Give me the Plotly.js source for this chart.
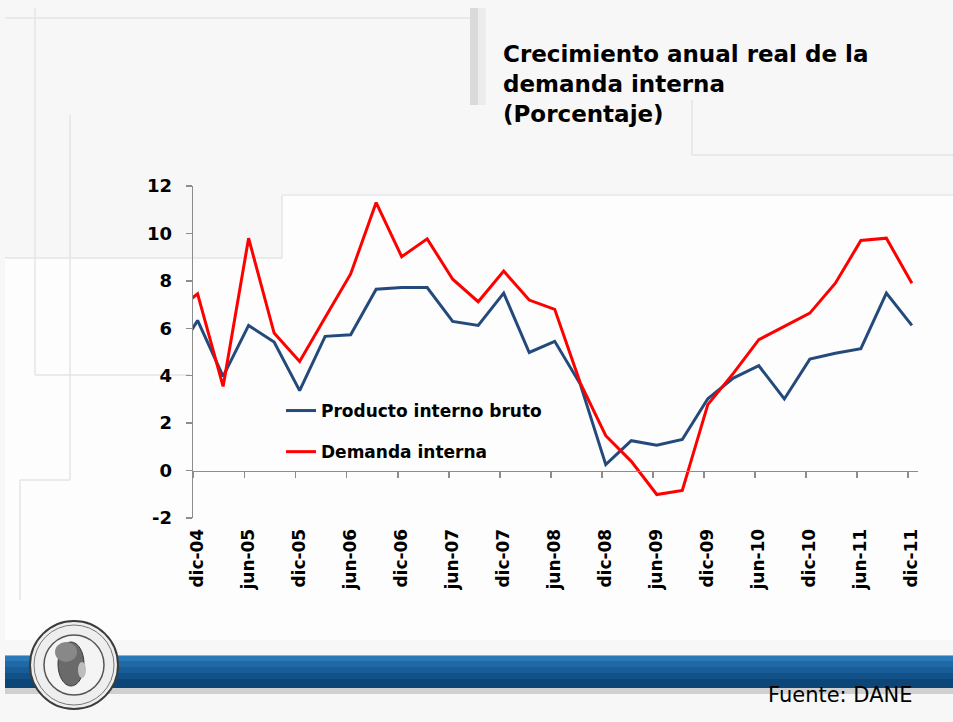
<!DOCTYPE html>
<html>
<head>
<meta charset="utf-8">
<script src="https://cdn.plot.ly/plotly-3.0.1.min.js"></script>
<style>
html,body{margin:0;padding:0;background:#f7f7f7;}
#chart{width:953px;height:722px;}
</style>
</head>
<body>
<div id="chart"></div>
<script>
// ---- data (quarterly, annual real growth %) ----
const categories = ["sep-04","dic-04","mar-05","jun-05","sep-05","dic-05","mar-06","jun-06","sep-06","dic-06",
  "mar-07","jun-07","sep-07","dic-07","mar-08","jun-08","sep-08","dic-08","mar-09","jun-09",
  "sep-09","dic-09","mar-10","jun-10","sep-10","dic-10","mar-11","jun-11","sep-11","dic-11"];
const pib = [4.6, 6.33, 3.97, 6.12, 5.42, 3.37, 5.66, 5.73, 7.65, 7.72,
  7.72, 6.29, 6.12, 7.48, 4.98, 5.45, 3.65, 0.25, 1.26, 1.07,
  1.31, 3.03, 3.9, 4.42, 3.02, 4.70, 4.95, 5.14, 7.48, 6.12];
const demanda = [6.6, 7.45, 3.55, 9.80, 5.80, 4.60, 6.45, 8.29, 11.30, 9.02,
  9.77, 8.07, 7.12, 8.41, 7.19, 6.80, 3.7, 1.47, 0.39, -1.01,
  -0.84, 2.78, 4.1, 5.52, 6.08, 6.64, 7.90, 9.70, 9.80, 7.90];
const seriesNames = ["Producto interno bruto", "Demanda interna"];
const tickLabels = ["dic-04","jun-05","dic-05","jun-06","dic-06","jun-07","dic-07","jun-08",
  "dic-08","jun-09","dic-09","jun-10","dic-10","jun-11","dic-11"];
const yTicks = [-2, 0, 2, 4, 6, 8, 10, 12];
const titleText = "Crecimiento anual real de la<br>demanda interna<br>(Porcentaje)";
const sourceText = "Fuente: DANE";

// ---- layout helpers ----
const W = 953, H = 722;
const M = {l: 193, r: 35, t: 186, b: 204};
const PW = W - M.l - M.r, PH = H - M.t - M.b;
const X = p => (p - M.l) / PW;
const Y = p => (H - M.b - p) / PH;

const xIdx = categories.map((c, i) => i - 1);          // dic-04 -> 0
const labelPos = tickLabels.map(t => categories.indexOf(t) - 1);
const tickPos = labelPos.map(v => v - 0.15);
const xRange = [-0.18, 28.24];

const fam = "DejaVu Sans, Arial, sans-serif";
const boldFont = (s) => ({family: fam, size: s, color: "#000", weight: "bold"});

const traces = [
  {x: xIdx, y: pib, text: categories, name: seriesNames[0], type: "scatter", mode: "lines",
   line: {color: "#244a7c", width: 3}, legendgroup: "a"},
  {x: xIdx, y: demanda, text: categories, name: seriesNames[1], type: "scatter", mode: "lines",
   line: {color: "#ff0000", width: 3}, legendgroup: "b"},
  // empty trace so the label axis (x2) is drawn; it has no points
  {x: [], y: [], xaxis: "x2", type: "scatter", mode: "lines", showlegend: false, hoverinfo: "skip"}
];

// ---- decorative slide shapes ----
const line = (x0, y0, x1, y1, c, w) => ({type: "line", xref: "paper", yref: "paper", layer: "below",
  x0: X(x0), y0: Y(y0), x1: X(x1), y1: Y(y1), line: {color: c || "#e4e4e4", width: w || 1.5}});
const rect = (x0, y0, x1, y1, fill, lc, lw) => ({type: "rect", xref: "paper", yref: "paper", layer: "below",
  x0: X(x0), y0: Y(y0), x1: X(x1), y1: Y(y1), fillcolor: fill, line: {color: lc || "rgba(0,0,0,0)", width: lw || 0}});
const circ = (cx, cy, rx, ry, fill, lc, lw) => ({type: "circle", xref: "paper", yref: "paper", layer: "above",
  x0: X(cx - rx), y0: Y(cy + ry), x1: X(cx + rx), y1: Y(cy - ry), fillcolor: fill, line: {color: lc || "rgba(0,0,0,0)", width: lw || 0}});
const pathOf = pts => "M " + pts.map(p => X(p[0]) + "," + Y(p[1])).join(" L ") + " Z";

const shapes = [
  {type: "path", xref: "paper", yref: "paper", layer: "below",
   path: pathOf([[5,258],[282,258],[282,195],[953,195],[953,640],[5,640]]),
   fillcolor: "#fdfdfd", line: {width: 0}},
  line(5, 18, 470, 18), line(35, 8, 35, 375), line(35, 375, 190, 375),
  line(70, 115, 70, 480), line(20, 480, 70, 480), line(20, 480, 20, 600),
  line(5, 258, 282, 258), line(282, 195, 282, 258), line(282, 195, 953, 195, "#ececec", 2),
  line(692, 100, 692, 155), line(692, 155, 953, 155),
  rect(470, 8, 478, 105, "#dadada"), rect(478, 8, 486, 105, "#ececec"),
  // bottom band
  rect(5, 688, 953, 694, "#d0d0d0"),
  rect(5, 655, 953, 661, "#2b79b8"), rect(5, 661, 953, 667, "#1f69a6"),
  rect(5, 667, 953, 673, "#185d97"), rect(5, 673, 953, 679, "#125188"),
  rect(5, 679, 953, 688, "#0c4577"),
  line(5, 655.5, 953, 655.5, "#7fb2dc", 1),
  // logo (seal)
  circ(74, 665, 44, 44, "#eeeeee", "#3c3c3c", 2),
  circ(74, 665, 40, 40, "rgba(0,0,0,0)", "#777", 1),
  circ(74, 665, 30, 30, "#f4f4f4", "#555", 1.5),
  circ(71, 664, 13, 22, "#6a6a6a", "#3a3a3a", 1),
  circ(66, 652, 11, 10, "#888888", "rgba(0,0,0,0)", 0),
  circ(82, 670, 4, 8, "#bdbdbd", "rgba(0,0,0,0)", 0)
];

const b = s => "<b>" + s + "</b>";

const layout = {
  width: W, height: H,
  margin: M,
  paper_bgcolor: "rgba(0,0,0,0)",
  plot_bgcolor: "rgba(0,0,0,0)",
  showlegend: true,
  title: {text: titleText, font: boldFont(23), xref: "container", yref: "container",
          x: 503 / W, xanchor: "left", y: 1 - 62 / H, yanchor: "middle"},
  xaxis: {type: "linear", range: xRange, anchor: "free", position: 2 / 14,
          showline: true, linecolor: "#8c8c8c", linewidth: 1.3,
          ticks: "outside", ticklen: 6, tickcolor: "#8c8c8c", tickwidth: 1.3,
          tickmode: "array", tickvals: tickPos, showticklabels: false,
          showgrid: false, zeroline: false, fixedrange: true},
  xaxis2: {type: "linear", range: xRange, overlaying: "x", anchor: "y", side: "bottom",
           showline: false, ticks: "outside", ticklen: 3, tickcolor: "rgba(0,0,0,0)",
           tickmode: "array", tickvals: labelPos, ticktext: tickLabels.map(b), tickangle: -90,
           tickfont: boldFont(17), showgrid: false, zeroline: false},
  yaxis: {range: [-2, 12], tickmode: "array", tickvals: yTicks, ticktext: yTicks.map(v => b(String(v))),
          showline: true, linecolor: "#8c8c8c", linewidth: 1.3,
          ticks: "outside", ticklen: 6, tickcolor: "#8c8c8c", tickwidth: 1.3,
          ticklabelstandoff: 10, tickfont: boldFont(18),
          showgrid: false, zeroline: false},
  legend: {x: X(281), y: Y(393), xanchor: "left", yanchor: "top",
           bgcolor: "rgba(0,0,0,0)", font: boldFont(17),
           traceorder: "grouped", tracegroupgap: 16},
  shapes: shapes,
  annotations: [
    {text: sourceText, xref: "paper", yref: "paper", x: X(915), y: Y(695),
     xanchor: "right", yanchor: "middle", showarrow: false,
     font: {family: fam, size: 21, color: "#000"}}
  ]
};

Plotly.newPlot("chart", traces, layout, {displayModeBar: false, staticPlot: true});
</script>
</body>
</html>
